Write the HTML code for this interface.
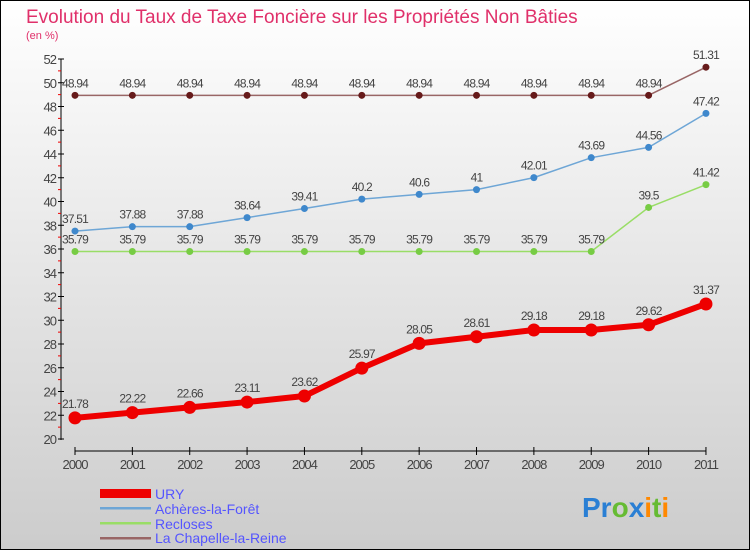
<!DOCTYPE html>
<html><head><meta charset="utf-8"><style>
body{margin:0;width:750px;height:550px;overflow:hidden}
svg{display:block;font-family:"Liberation Sans",sans-serif}
</style></head><body>
<svg id="c" width="750" height="550">
<defs><linearGradient id="bg" x1="0" y1="0" x2="0" y2="1"><stop offset="0" stop-color="#ffffff"/><stop offset="1" stop-color="#cccccc"/></linearGradient></defs>
<rect x="0.5" y="0.5" width="749" height="549" fill="url(#bg)" stroke="#000"/>
<text x="26" y="23" font-size="19" fill="#e0306a">Evolution du Taux de Taxe Foncière sur les Propriétés Non Bâties</text>
<text x="26" y="39" font-size="11" fill="#e0306a">(en %)</text>
<g id="axes"></g><g id="series"></g>
<g>
<rect x="100" y="489" width="51" height="9" fill="#ee0000"/>
<text x="155" y="499" font-size="14" fill="#5555ff">URY</text>
<rect x="100" y="507" width="51" height="2.5" fill="#6ea6d6"/>
<text x="155" y="514" font-size="14" fill="#5555ff">Achères-la-Forêt</text>
<rect x="100" y="522" width="51" height="2.5" fill="#99dd66"/>
<text x="155" y="529" font-size="14" fill="#5555ff">Recloses</text>
<rect x="100" y="537" width="51" height="2.5" fill="#996666"/>
<text x="155" y="543" font-size="14" fill="#5555ff">La Chapelle-la-Reine</text>
</g>
<text x="582" y="517" font-size="28" font-weight="bold"><tspan fill="#2a7fd4">Pr</tspan><tspan fill="#66bb33">o</tspan><tspan fill="#2a7fd4">x</tspan><tspan fill="#ff8800">i</tspan><tspan fill="#66bb33">t</tspan><tspan fill="#ff8800">i</tspan></text>
</svg>
<script>
const years=["2000","2001","2002","2003","2004","2005","2006","2007","2008","2009","2010","2011"];
const yTicks=[20,22,24,26,28,30,32,34,36,38,40,42,44,46,48,50,52];
const ury=[21.78,22.22,22.66,23.11,23.62,25.97,28.05,28.61,29.18,29.18,29.62,31.37];
const acheres=[37.51,37.88,37.88,38.64,39.41,40.2,40.6,41,42.01,43.69,44.56,47.42];
const recloses=[35.79,35.79,35.79,35.79,35.79,35.79,35.79,35.79,35.79,35.79,39.5,41.42];
const chapelle=[48.94,48.94,48.94,48.94,48.94,48.94,48.94,48.94,48.94,48.94,48.94,51.31];
const NS="http://www.w3.org/2000/svg";
const xs=i=>75+i*57.36, ys=v=>439-(v-20)*11.875;
function mk(t,a,p){const e=document.createElementNS(NS,t);for(const k in a)e.setAttribute(k,a[k]);p.appendChild(e);return e;}
const ax=document.getElementById('axes');
const ya=mk('line',{x1:61,y1:59,x2:61,y2:440,stroke:'#000'},ax);


yTicks.forEach((v,i)=>{
 mk('line',{x1:58,x2:64,y1:ys(v),y2:ys(v),stroke:'#000'},ax);
 if(i<yTicks.length-1)mk('line',{x1:58,x2:61,y1:ys(v+1),y2:ys(v+1),stroke:'#e00'},ax);
 const t=mk('text',{x:56,y:ys(v)+5,'text-anchor':'end','font-size':13,fill:'#444','letter-spacing':'-1'},ax);
 
 
 t.textContent=v;
});
const xa=mk('line',{x1:xs(0),y1:451,x2:xs(11),y2:451,stroke:'#000'},ax);


years.forEach((y,i)=>{
 mk('line',{x1:xs(i),x2:xs(i),y1:447,y2:455,stroke:'#000'},ax);
 const t=mk('text',{x:xs(i),y:469,'text-anchor':'middle','font-size':13,fill:'#444','letter-spacing':'-1'},ax);
 
 
 t.textContent=y;
});
const sg=document.getElementById('series');
function series(vals,name,col,dot,w,r,lblOff){
 const g=mk('g',{},sg);
 
 
 const l=mk('polyline',{points:vals.map((v,i)=>xs(i)+','+ys(v)).join(' '),fill:'none',stroke:col,'stroke-width':w,'stroke-linejoin':'round'},g);
 
 
 vals.forEach((v,i)=>{
  const c=mk('circle',{cx:xs(i),cy:ys(v),r:r,fill:dot},g);
  
  
  const t=mk('text',{x:xs(i),y:ys(v)-lblOff,'text-anchor':'middle','font-size':12,fill:'#444','letter-spacing':'-0.8'},g);
  
  
  t.textContent=v;
 });
}
series(chapelle,'la-chapelle-la-reine','#996666','#661a1a',1.5,3.5,8);
series(recloses,'recloses','#99dd66','#77cc44',1.5,3.5,8);
series(acheres,'acheres-la-foret','#6ea6d6','#3f88cc',1.5,3.5,8);
series(ury,'ury','#ee0000','#ee0000',6,6.5,10);
</script>
</body></html>
